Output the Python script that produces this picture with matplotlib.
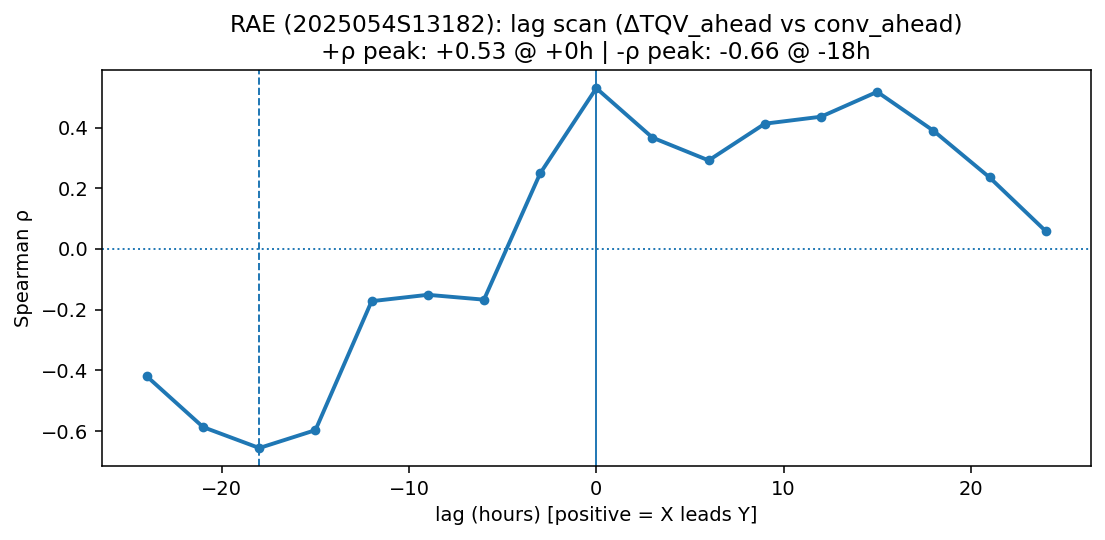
import matplotlib
matplotlib.use("Agg")
import matplotlib.pyplot as plt

# lag scan values
lags = [-24, -21, -18, -15, -12, -9, -6, -3, 0, 3, 6, 9, 12, 15, 18, 21, 24]
rho = [-0.42, -0.587, -0.656, -0.597, -0.172, -0.151, -0.167, 0.249, 0.530,
       0.367, 0.292, 0.413, 0.436, 0.518, 0.390, 0.236, 0.059]
pos_peak_lag = 0
neg_peak_lag = -18

dpi = 140
fig = plt.figure(figsize=(1105 / dpi, 540 / dpi), dpi=dpi)
ax = fig.add_axes([0.0923, 0.137, 0.8947, 0.733])

ax.plot(lags, rho, marker="o", markersize=4, linewidth=2, color="C0")
ax.axhline(0, linestyle=":", linewidth=1, color="C0")
ax.axvline(pos_peak_lag, linestyle="-", linewidth=1, color="C0")
ax.axvline(neg_peak_lag, linestyle="--", linewidth=1, color="C0")

ax.set_xlabel("lag (hours) [positive = X leads Y]")
ax.set_ylabel("Spearman ρ")
ax.set_title("RAE (2025054S13182): lag scan (ΔTQV_ahead vs conv_ahead)\n"
             "+ρ peak: +0.53 @ +0h | -ρ peak: -0.66 @ -18h")

fig.savefig("out.png", dpi=dpi)
